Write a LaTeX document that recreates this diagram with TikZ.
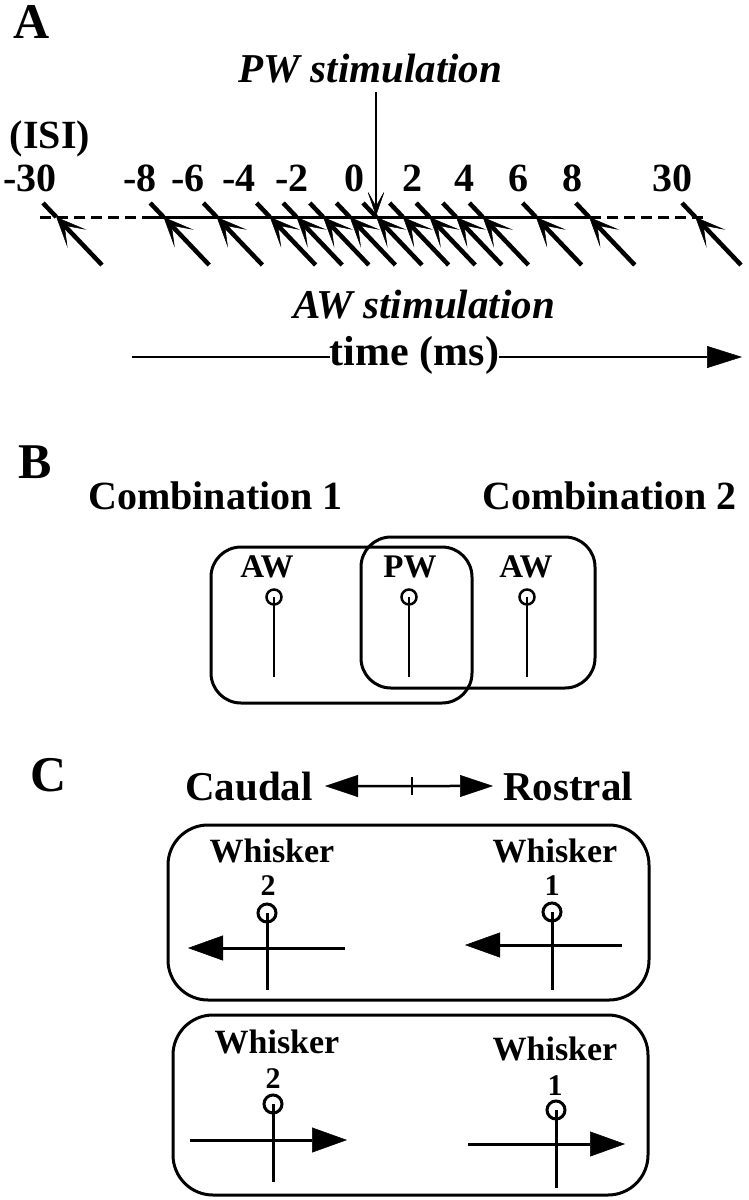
\documentclass[tikz,border=0pt]{standalone}
\usepackage{fontspec}
\setmainfont{Liberation Serif}
\usetikzlibrary{arrows.meta}
\begin{document}
\begin{tikzpicture}[x=1pt,y=-1pt,
  panel/.style={font=\fontsize{50}{60}\selectfont\bfseries, anchor=base west, inner sep=0pt},
  num/.style={font=\fontsize{40}{48}\selectfont\bfseries, anchor=base, inner sep=0pt},
  title/.style={font=\fontsize{41}{48}\selectfont\bfseries\itshape, anchor=base, inner sep=0pt},
  head/.style={font=\fontsize{40}{48}\selectfont\bfseries, anchor=base west, inner sep=0pt},
  wlabel/.style={font=\fontsize{33}{40}\selectfont\bfseries, anchor=base, inner sep=0pt},
  whisk/.style={font=\fontsize{34}{40}\selectfont\bfseries, anchor=base, inner sep=0pt},
  digit/.style={font=\fontsize{30}{36}\selectfont\bfseries, anchor=base, inner sep=0pt},
  axisline/.style={line width=3pt},
  dashaxis/.style={line width=3pt, dash pattern=on 11pt off 6pt},
  awshaft/.style={line width=4.5pt},
  awhead/.style={line width=4.5pt, -{Stealth[length=30pt,width=26pt,inset=18pt,line width=0.5pt]}},
  pwarrow/.style={line width=2pt, -{Stealth[length=26pt,width=18pt,inset=16pt,line width=0.5pt]}},
  bigarrow/.style={line width=2.5pt, -{Triangle[length=35pt,width=22pt,line width=0.5pt]}},
  carrow/.style={line width=3pt, -{Triangle[length=35pt,width=25pt,line width=0.5pt]}},
  dblarrow/.style={line width=2.5pt, {Triangle[length=33pt,width=22pt,line width=0.5pt]}-{Triangle[length=33pt,width=22pt,line width=0.5pt]}},
  bbox/.style={line width=3pt, rounded corners=30pt},
  cbox/.style={line width=3pt, rounded corners=40pt},
  hair/.style={draw, circle, line width=2.5pt, inner sep=0pt, minimum size=15pt},
  chair/.style={draw, circle, line width=3pt, inner sep=0pt, minimum size=18pt},
  stem/.style={line width=2.5pt},
  cstem/.style={line width=3pt},
]
\useasboundingbox (0,0) rectangle (748,1200);
\fill[white] (0,0) rectangle (748,1200);

% ---------------- Panel A ----------------
\node[panel] (A) at (13,38) {A};
\node[title] (pw) at (370.5,82) {PW stimulation};
\node[num] (isi) at (50,148) {(ISI)};

\foreach \lx/\lt [count=\i] in {30/-30, 140/-8, 188/-6, 239/-4, 292/-2, 354/0, 412/2, 464/4, 518/6, 572/8, 672/30}
  \node[num] (isilab\i) at (\lx,191) {\lt};

\coordinate (ax0) at (40,217);
\coordinate (ax1) at (152,217);
\coordinate (ax2) at (590,217);
\coordinate (ax3) at (707,217);
\draw[dashaxis] (ax0) -- (ax1);
\draw[axisline] (ax1) -- (ax2);
\draw[dashaxis] (ax2) -- (ax3);

\foreach \tx [count=\i] in {43, 150.2, 203.4, 256.6, 283.2, 309.8, 336.4, 363, 389.6, 416.2, 442.8, 469.4, 522.6, 575.8, 682} {
  \coordinate (awtop\i) at (\tx,203);
  \coordinate (awtip\i) at (\tx+13.3,217);
  \coordinate (awbot\i) at (\tx+59,265);
  \draw[awhead] (awbot\i) -- (awtip\i);
  \draw[awshaft] (awtip\i) -- (awtop\i);
}

\coordinate (pwtop) at (376,92);
\coordinate (pwtip) at (376,216);
\draw[pwarrow] (pwtop) -- (pwtip);

\node[title] (aw) at (424,318) {AW stimulation};

\node[font=\fontsize{42}{48}\selectfont\bfseries, anchor=base, inner sep=0pt] (time) at (414.5,365) {time (ms)};
\coordinate (tl) at (132,357);
\coordinate (tr) at (742,357);
\draw[line width=2.5pt] (tl) -- (tl -| time.west);
\draw[bigarrow] (tr -| time.east) -- (tr);

% ---------------- Panel B ----------------
\node[panel] (B) at (18,478) {B};
\node[head] (comb1) at (88,509) {Combination 1};
\node[head, anchor=base east] (comb2) at (737,509) {Combination 2};

\draw[bbox] (211,547) rectangle (472,703);
\draw[bbox] (361,537) rectangle (595,688);

\node[wlabel] (awl) at (267,577) {AW};
\node[wlabel] (pwl) at (410,577) {PW};
\node[wlabel] (awr) at (526,577) {AW};

\node[hair] (hb1) at (274,597) {};
\node[hair] (hb2) at (409,597) {};
\node[hair] (hb3) at (527,597) {};
\coordinate (sb1) at (274,677);
\coordinate (sb2) at (409,677);
\coordinate (sb3) at (527,677);
\draw[stem] (hb1.center) -- (sb1);
\draw[stem] (hb2.center) -- (sb2);
\draw[stem] (hb3.center) -- (sb3);

% ---------------- Panel C ----------------
\node[panel] (C) at (30,791) {C};
\node[head, font=\fontsize{41}{48}\selectfont\bfseries] (caudal) at (185,800) {Caudal};
\node[head, font=\fontsize{41}{48}\selectfont\bfseries] (rostral) at (503,800) {Rostral};
\draw[dblarrow] ([xshift=12pt]caudal.east) -- ([xshift=-10pt]rostral.west);
\coordinate (tick1) at (412,777);
\coordinate (tick2) at (412,795);
\draw[stem] (tick1) -- (tick2);

\draw[cbox] (168,825) rectangle (649,1000);
\draw[cbox] (173,1015) rectangle (648,1195);

% box 1
\node[whisk] (w1l) at (272,862) {Whisker};
\node[whisk] (w1r) at (555,862) {Whisker};
\node[digit] (d1l) at (268,895) {2};
\node[digit] (d1r) at (552,895) {1};
\node[chair] (hc1) at (267,913) {};
\node[chair] (hc2) at (552,912) {};
\coordinate (sc1) at (267,990);
\coordinate (sc2) at (552,990);
\draw[cstem] (hc1.center) -- (sc1);
\draw[cstem] (hc2.center) -- (sc2);
\coordinate (ac1s) at (345,948);
\coordinate (ac1e) at (188,948);
\coordinate (ac2s) at (622,945);
\coordinate (ac2e) at (465,945);
\draw[carrow] (ac1s) -- (ac1e);
\draw[carrow] (ac2s) -- (ac2e);

% box 2
\node[whisk] (w2l) at (277,1053) {Whisker};
\node[whisk] (w2r) at (555,1060) {Whisker};
\node[digit] (d2l) at (273,1088) {2};
\node[digit] (d2r) at (555,1095) {1};
\node[chair] (hc3) at (273,1104) {};
\node[chair] (hc4) at (556,1110) {};
\coordinate (sc3) at (273,1182);
\coordinate (sc4) at (556,1188);
\draw[cstem] (hc3.center) -- (sc3);
\draw[cstem] (hc4.center) -- (sc4);
\coordinate (ac3s) at (190,1140);
\coordinate (ac3e) at (347,1140);
\coordinate (ac4s) at (468,1144);
\coordinate (ac4e) at (625,1144);
\draw[carrow] (ac3s) -- (ac3e);
\draw[carrow] (ac4s) -- (ac4e);
\end{tikzpicture}
\end{document}
